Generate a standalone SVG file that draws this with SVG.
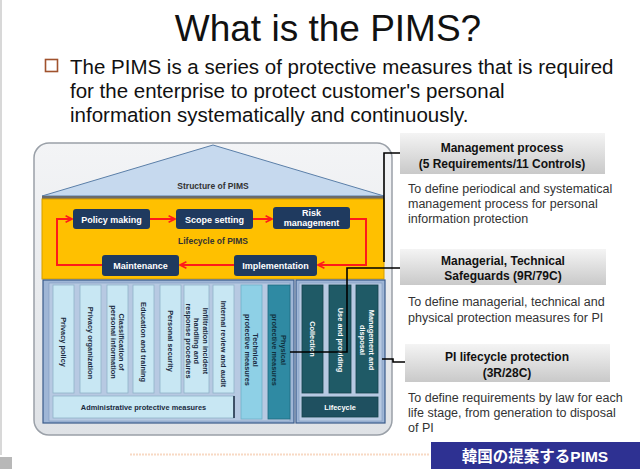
<svg xmlns="http://www.w3.org/2000/svg" width="640" height="469" viewBox="0 0 640 469">
<defs>
<linearGradient id="gbox" x1="0" y1="0" x2="0" y2="1">
<stop offset="0" stop-color="#f4f4f4"/><stop offset="1" stop-color="#c9c9c9"/>
</linearGradient>
<linearGradient id="gouter" x1="0" y1="0" x2="0" y2="1">
<stop offset="0" stop-color="#f3f4f6"/><stop offset="1" stop-color="#dfe2e6"/>
</linearGradient>
<marker id="ah" viewBox="0 0 10 10" refX="9" refY="5" markerWidth="4" markerHeight="4" orient="auto">
<path d="M1,1 L9,5 L1,9" fill="none" stroke="#ff1a1a" stroke-width="2"/>
</marker>
<style>
.title{font-family:"Liberation Sans",Arial,sans-serif;font-size:37px;fill:#111}
.bul{font-family:"Liberation Sans",Arial,sans-serif;font-size:20.5px;fill:#111}
.node rect{fill:#1f3a5f}
.nt{font-family:"Liberation Sans",Arial,sans-serif;font-size:9px;font-weight:bold;fill:#fff;text-anchor:middle}
.lbl{font-family:"Liberation Sans",Arial,sans-serif;font-size:8.5px;font-weight:bold;fill:#333;text-anchor:middle}
.col{fill:#c8e7f3;stroke:#8fb3c8;stroke-width:0.8}
.ct{font-family:"Liberation Sans Narrow","Liberation Sans",Arial,sans-serif;font-size:7.4px;font-weight:bold;fill:#1a2a40;text-anchor:middle}
.ctw{font-family:"Liberation Sans Narrow","Liberation Sans",Arial,sans-serif;font-size:7.4px;font-weight:bold;fill:#fff;text-anchor:middle}
.dk{fill:#1f5a66;stroke:#16424c;stroke-width:0.8}
.hb{fill:url(#gbox)}
.ht{font-family:"Liberation Sans",Arial,sans-serif;font-size:12px;font-weight:bold;fill:#111;text-anchor:middle}
.desc{font-family:"Liberation Sans",Arial,sans-serif;font-size:12.5px;fill:#333}
.red{fill:none;stroke:#ff1a1a;stroke-width:2;marker-end:url(#ah)}
.conn{fill:none;stroke:#000;stroke-width:1.6}
</style>
</defs>
<rect width="640" height="469" fill="#fff"/>
<line x1="1" y1="0" x2="1" y2="455" stroke="#d8d8d8" stroke-width="2"/>
<rect x="0" y="457" width="12" height="12" fill="#b8b8b8"/>
<text class="title" x="328" y="41" text-anchor="middle">What is the PIMS?</text>
<rect x="45.5" y="59.5" width="12" height="12" fill="#fff" stroke="#a0522d" stroke-width="1.6"/>
<text class="bul" x="70" y="74">The PIMS is a series of protective measures that is required</text>
<text class="bul" x="70" y="98">for the enterprise to protect customer's personal</text>
<text class="bul" x="70" y="122">information systematically and continuously.</text>

<g id="structure">
<rect x="34" y="143" width="358" height="292" rx="15" fill="url(#gouter)" stroke="#9aa0a8" stroke-width="1.5"/>
<polygon points="42,196 213,145 384,196" fill="#c6d9ee" stroke="#5b7fa8" stroke-width="1"/>
<text class="lbl" x="213" y="189">Structure of PIMS</text>
<rect x="42" y="196" width="342" height="3" fill="#6b6b6b"/>
<rect x="42" y="199" width="342" height="80" fill="#ffc000" stroke="#d39e00" stroke-width="1"/>
<text class="lbl" x="213" y="244" fill="#3a3a3a">Lifecycle of PIMS</text>
</g>

<g id="policy-making" class="node"><rect x="73" y="209" width="77" height="20" rx="3"/><text class="nt" x="111.5" y="222.5">Policy making</text></g>
<g id="scope-setting" class="node"><rect x="176" y="209" width="77" height="20" rx="3"/><text class="nt" x="214.5" y="222.5">Scope setting</text></g>
<g id="risk-management" class="node"><rect x="273" y="207" width="77" height="22" rx="3"/><text class="nt" x="311.5" y="216">Risk</text><text class="nt" x="311.5" y="226">management</text></g>
<g id="maintenance" class="node"><rect x="102" y="255" width="77" height="21" rx="3"/><text class="nt" x="140.5" y="268.5">Maintenance</text></g>
<g id="implementation" class="node"><rect x="234" y="255" width="83" height="21" rx="3"/><text class="nt" x="275.5" y="268.5">Implementation</text></g>

<g id="lifecycle-arrows">
<path class="red" d="M150,219 L175,219"/>
<path class="red" d="M253,219 L272,219"/>
<path class="red" d="M350,219 L366,219 L366,265 L318,265"/>
<path class="red" d="M234,265 L180,265"/>
<path class="red" d="M102,265 L57,265 L57,219 L72,219"/>
</g>

<g id="safeguards">
<rect x="43" y="280" width="251" height="143" fill="#9fb6d6" stroke="#3a5a8a" stroke-width="1.2"/>
<rect x="49" y="283" width="241" height="138" fill="#b7c9e2" stroke="#7f99bf" stroke-width="0.6"/>
<rect class="col" x="53" y="285" width="21" height="108"/>
<rect class="col" x="80" y="285" width="21" height="108"/>
<rect class="col" x="107" y="285" width="21" height="108"/>
<rect class="col" x="133" y="285" width="21" height="108"/>
<rect class="col" x="160" y="285" width="21" height="108"/>
<rect class="col" x="184" y="285" width="25" height="108"/>
<rect class="col" x="213" y="285" width="21" height="108"/>
<rect class="col" x="53" y="396" width="181" height="22"/>
<line x1="234" y1="396" x2="234" y2="418" stroke="#1a2a40" stroke-width="1.5"/>
<rect x="241" y="285" width="21" height="134" fill="#8ed0e6" stroke="#6fb0c8" stroke-width="0.8"/>
<rect x="268" y="285" width="22" height="134" fill="#2f8aa3" stroke="#1f6a80" stroke-width="0.8"/>
<text class="ct" transform="translate(63.5,342) rotate(90)" dy="2.5">Privacy policy</text>
<text class="ct" transform="translate(90.5,343) rotate(90)" dy="2.5">Privacy organization</text>
<text class="ct" transform="translate(117.5,342) rotate(90)"><tspan x="0" dy="-1.5">Classification of</tspan><tspan x="0" dy="8.5">personal information</tspan></text>
<text class="ct" transform="translate(143.5,342) rotate(90)" dy="2.5">Education and training</text>
<text class="ct" transform="translate(170.5,341) rotate(90)" dy="2.5">Personal security</text>
<text class="ct" transform="translate(196.5,341) rotate(90)"><tspan x="0" dy="-6">Infiltration incident</tspan><tspan x="0" dy="8.5">handling and</tspan><tspan x="0" dy="8.5">response procedures</tspan></text>
<text class="ct" transform="translate(223.5,344) rotate(90)" dy="2.5">Internal review and audit</text>
<text class="ct" transform="translate(251.5,350) rotate(90)"><tspan x="0" dy="-1.5">Technical</tspan><tspan x="0" dy="8.5">protective measures</tspan></text>
<text class="ct" transform="translate(279,350) rotate(90)" style="fill:#10303c"><tspan x="0" dy="-1.5">Physical</tspan><tspan x="0" dy="8.5">protective measures</tspan></text>
<text class="ct" x="143.5" y="409.5">Administrative protective measures</text>
</g>

<g id="lifecycle">
<rect x="296" y="280" width="89" height="143" fill="#9fb6d6" stroke="#3a5a8a" stroke-width="1.2"/>
<rect x="299" y="283" width="83" height="138" fill="#b7c9e2" stroke="#7f99bf" stroke-width="0.6"/>
<rect class="dk" x="302" y="285" width="21" height="108"/>
<rect class="dk" x="329" y="285" width="22" height="108"/>
<rect class="dk" x="356" y="285" width="22" height="108"/>
<rect class="dk" x="302" y="397" width="76" height="20" style="fill:#1f5060"/>
<text class="ctw" transform="translate(312.5,339) rotate(90)" dy="2.5">Collection</text>
<text class="ctw" transform="translate(340,340) rotate(90)" dy="2.5">Use and providing</text>
<text class="ctw" transform="translate(367,340) rotate(90)"><tspan x="0" dy="-1.5">Management and</tspan><tspan x="0" dy="8.5">disposal</tspan></text>
<text class="ctw" x="340" y="410">Lifecycle</text>
</g>

<g id="management-process">
<rect class="hb" x="400" y="133" width="205" height="41"/>
<text class="ht" x="502" y="152">Management  process</text>
<text class="ht" x="502" y="168">(5 Requirements/11  Controls)</text>
<text class="desc" x="408" y="193">To define periodical and systematical</text>
<text class="desc" x="408" y="208">management process for personal</text>
<text class="desc" x="408" y="223">information protection</text>
</g>

<g id="managerial-safeguards">
<rect class="hb" x="400" y="249" width="206" height="36"/>
<text class="ht" x="503" y="265">Managerial, Technical</text>
<text class="ht" x="503" y="280">Safeguards (9R/79C)</text>
<text class="desc" x="408" y="306">To define managerial, technical and</text>
<text class="desc" x="408" y="322">physical protection measures for PI</text>
</g>

<g id="pi-lifecycle">
<rect class="hb" x="405" y="344" width="205" height="38"/>
<text class="ht" x="507" y="361">PI lifecycle protection</text>
<text class="ht" x="507" y="377">(3R/28C)</text>
<text class="desc" x="408" y="402">To define requirements  by law for each</text>
<text class="desc" x="408" y="417">life stage, from generation to disposal</text>
<text class="desc" x="408" y="432">of  PI</text>
</g>

<g id="connectors">
<path class="conn" d="M384,262 L384,153 L400,153"/>
<path class="conn" d="M290,352 L347,352 L347,268 L400,268"/>
<path class="conn" d="M382,359 L393,359 L393,362 L405,362"/>
</g>

<line x1="130" y1="454.5" x2="430" y2="454.5" stroke="#f8d9c4" stroke-width="2" stroke-dasharray="2,1"/>
<g id="footer">
<rect x="431" y="442" width="209" height="27" fill="#2e3192"/>
<text x="535" y="462" text-anchor="middle" font-family="'Liberation Sans','Noto Sans CJK JP',sans-serif" font-size="15.5" font-weight="bold" fill="#fff">韓国の提案するPIMS</text>
</g>
</svg>
